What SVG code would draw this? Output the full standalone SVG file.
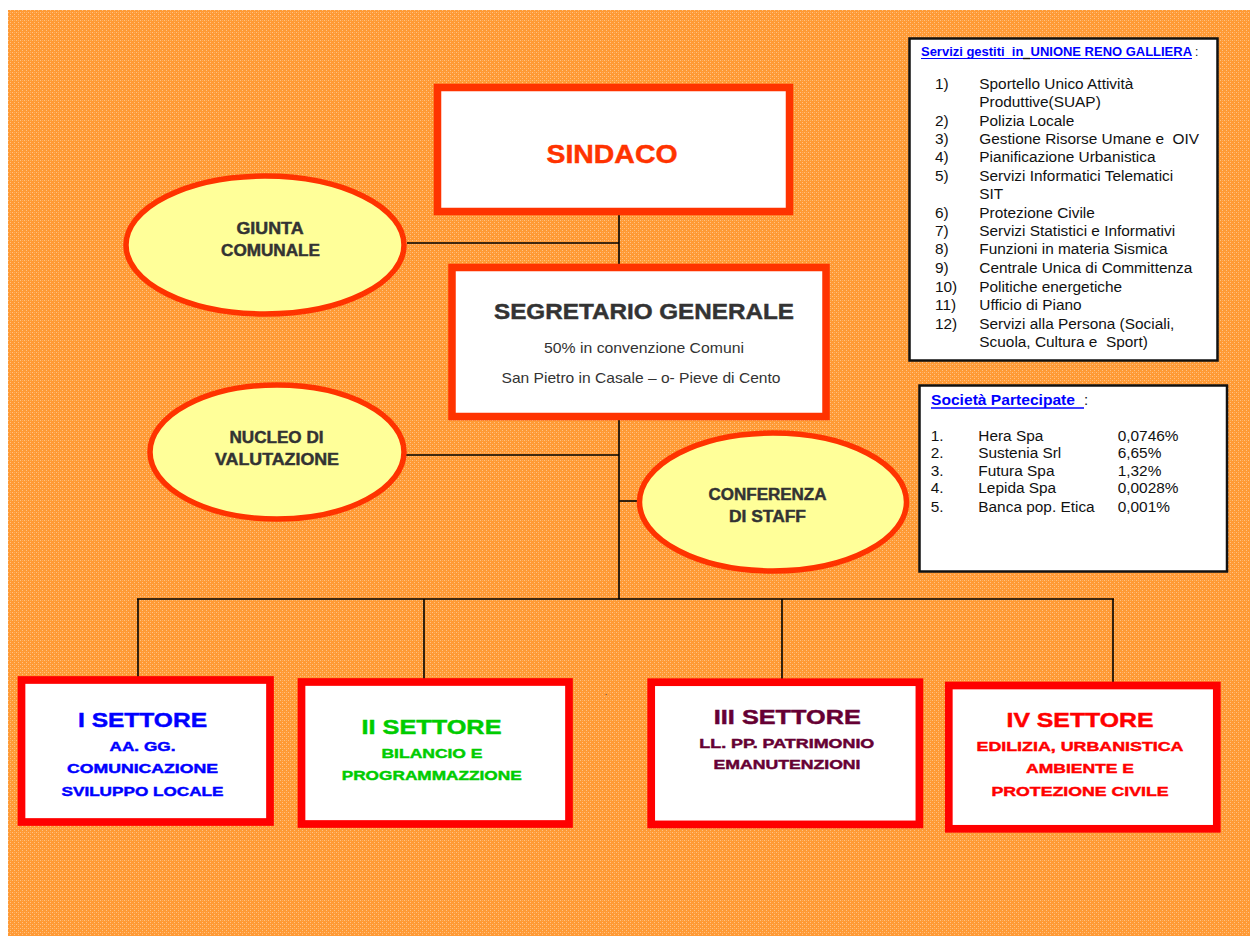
<svg xmlns="http://www.w3.org/2000/svg" width="1250" height="936" viewBox="0 0 1250 936">
<defs>
<pattern id="bgp" width="4" height="4" patternUnits="userSpaceOnUse">
<rect width="4" height="4" fill="#FF9A35"/>
<rect x="0" y="0" width="1" height="1" fill="#FFC285"/>
<rect x="2" y="2" width="1" height="1" fill="#FFC285"/>
<rect x="2" y="0" width="1" height="1" fill="#FFAE5C"/>
</pattern>
<style>
.top{fill:#fff;stroke:#FF3300;stroke-width:7.5}
.ell{fill:#FFFF99;stroke:#FF3300;stroke-width:5.5}
.sec{fill:#fff;stroke:#FF0000;stroke-width:7.7}
.con{stroke:#000;stroke-width:1.6;fill:none}
.b{font-family:"Liberation Sans",Arial,sans-serif;font-weight:bold;text-anchor:middle;stroke-width:0.45}
.r{font-family:"Liberation Sans",Arial,sans-serif}
.ov{fill:#333333;stroke:#333333;font-size:16px}
.lst{font-size:15.4px;fill:#111}
.info{fill:#fff;stroke:#111;stroke-width:2.5}
</style>
</defs>
<rect x="0" y="0" width="1250" height="936" fill="#fff"/>
<rect x="8" y="10" width="1242" height="926" fill="url(#bgp)"/>

<g id="connectors">
<line class="con" x1="619" y1="214" x2="619" y2="264"/>
<line class="con" x1="407" y1="243" x2="619" y2="243"/>
<line class="con" x1="619" y1="420" x2="619" y2="599"/>
<line class="con" x1="406" y1="455" x2="619" y2="455"/>
<line class="con" x1="619" y1="501" x2="638" y2="501"/>
<line class="con" x1="137" y1="599" x2="1114" y2="599"/>
<line class="con" x1="138" y1="599" x2="138" y2="677"/>
<line class="con" x1="424" y1="599" x2="424" y2="679"/>
<line class="con" x1="782" y1="599" x2="782" y2="679"/>
<line class="con" x1="1113" y1="599" x2="1113" y2="682"/>
</g>

<g id="sindaco">
<rect class="top" x="437.5" y="87.5" width="352" height="124"/>
<text class="b" x="612" y="163" font-size="25" fill="#FF3300" stroke="#FF3300" textLength="131" lengthAdjust="spacingAndGlyphs">SINDACO</text>
</g>

<g id="segretario">
<rect class="top" x="452" y="267.5" width="374" height="149"/>
<text class="b" x="644" y="319" font-size="22" fill="#333333" stroke="#333333" textLength="300" lengthAdjust="spacingAndGlyphs">SEGRETARIO GENERALE</text>
<text class="r" x="644" y="353" font-size="15" fill="#333333" text-anchor="middle" textLength="200" lengthAdjust="spacingAndGlyphs">50% in convenzione Comuni</text>
<text class="r" x="641" y="383" font-size="15" fill="#333333" text-anchor="middle" textLength="279" lengthAdjust="spacingAndGlyphs">San Pietro in Casale – o- Pieve di Cento</text>
</g>

<g id="giunta">
<ellipse class="ell" cx="265" cy="245" rx="139" ry="69"/>
<text class="b ov" x="270" y="234" textLength="67" lengthAdjust="spacingAndGlyphs">GIUNTA</text>
<text class="b ov" x="270.5" y="256" textLength="99" lengthAdjust="spacingAndGlyphs">COMUNALE</text>
</g>

<g id="nucleo">
<ellipse class="ell" cx="277" cy="452" rx="127" ry="67"/>
<text class="b ov" x="276.5" y="443" textLength="94" lengthAdjust="spacingAndGlyphs">NUCLEO DI</text>
<text class="b ov" x="277" y="465" textLength="124" lengthAdjust="spacingAndGlyphs">VALUTAZIONE</text>
</g>

<g id="conferenza">
<ellipse class="ell" cx="773" cy="502" rx="133.5" ry="69"/>
<text class="b ov" x="767.5" y="500" textLength="118" lengthAdjust="spacingAndGlyphs">CONFERENZA</text>
<text class="b ov" x="767.5" y="522" textLength="77" lengthAdjust="spacingAndGlyphs">DI STAFF</text>
</g>

<g id="servizi">
<rect class="info" x="909.5" y="38.5" width="308" height="322"/>
<text class="r" x="921" y="56" font-size="12" font-weight="bold" fill="#0000FF" textLength="271" lengthAdjust="spacingAndGlyphs" xml:space="preserve">Servizi gestiti  in  UNIONE RENO GALLIERA</text>
<text class="r" x="1195" y="56" font-size="12" fill="#111"> :</text>
<line x1="921" y1="58.5" x2="1192" y2="58.5" stroke="#0000FF" stroke-width="1.2"/>
<line x1="1023" y1="58.5" x2="1030" y2="58.5" stroke="#111" stroke-width="1.4"/>
<g class="r lst">
<text x="935" y="89.3">1)</text><text x="979.3" y="89.3">Sportello Unico Attività</text>
<text x="979.3" y="107.3">Produttive(SUAP)</text>
<text x="935" y="125.7">2)</text><text x="979.3" y="125.7">Polizia Locale</text>
<text x="935" y="144">3)</text><text x="979.3" y="144" xml:space="preserve">Gestione Risorse Umane e  OIV</text>
<text x="935" y="162.3">4)</text><text x="979.3" y="162.3">Pianificazione Urbanistica</text>
<text x="935" y="180.7">5)</text><text x="979.3" y="180.7">Servizi Informatici Telematici</text>
<text x="979.3" y="199.3">SIT</text>
<text x="935" y="217.7">6)</text><text x="979.3" y="217.7">Protezione Civile</text>
<text x="935" y="236">7)</text><text x="979.3" y="236">Servizi Statistici e Informativi</text>
<text x="935" y="254.3">8)</text><text x="979.3" y="254.3">Funzioni in materia Sismica</text>
<text x="935" y="272.7">9)</text><text x="979.3" y="272.7">Centrale Unica di Committenza</text>
<text x="935" y="291.7">10)</text><text x="979.3" y="291.7">Politiche energetiche</text>
<text x="935" y="310">11)</text><text x="979.3" y="310">Ufficio di Piano</text>
<text x="935" y="329">12)</text><text x="979.3" y="329">Servizi alla Persona (Sociali,</text>
<text x="979.3" y="346.7" xml:space="preserve">Scuola, Cultura e  Sport)</text>
</g>
</g>

<g id="societa">
<rect class="info" x="919.5" y="385.5" width="307.5" height="186"/>
<text class="r" x="931" y="405" font-size="15" font-weight="bold" fill="#0000FF" textLength="144" lengthAdjust="spacingAndGlyphs">Società Partecipate</text>
<text class="r" x="1084" y="405" font-size="15" fill="#111"> :</text>
<line x1="931" y1="408" x2="1084" y2="408" stroke="#0000FF" stroke-width="1.4"/>
<g class="r lst">
<text x="930.7" y="440.7">1.</text><text x="978.3" y="440.7">Hera Spa</text><text x="1117.7" y="440.7">0,0746%</text>
<text x="930.7" y="458.3">2.</text><text x="978.3" y="458.3">Sustenia Srl</text><text x="1117.7" y="458.3">6,65%</text>
<text x="930.7" y="476">3.</text><text x="978.3" y="476">Futura Spa</text><text x="1117.7" y="476">1,32%</text>
<text x="930.7" y="493.3">4.</text><text x="978.3" y="493.3">Lepida Spa</text><text x="1117.7" y="493.3">0,0028%</text>
<text x="930.7" y="512.3">5.</text><text x="978.3" y="512.3">Banca pop. Etica</text><text x="1117.7" y="512.3">0,001%</text>
</g>
</g>

<g id="settore1">
<rect class="sec" x="21.5" y="680" width="248.5" height="142"/>
<g fill="#0000FF" stroke="#0000FF">
<text class="b" x="142.5" y="727" font-size="21" textLength="129" lengthAdjust="spacingAndGlyphs">I SETTORE</text>
<text class="b" x="142.5" y="751" font-size="13.5" textLength="66" lengthAdjust="spacingAndGlyphs">AA. GG.</text>
<text class="b" x="142.5" y="773.3" font-size="13.5" textLength="151" lengthAdjust="spacingAndGlyphs">COMUNICAZIONE</text>
<text class="b" x="142.5" y="796" font-size="13.5" textLength="162" lengthAdjust="spacingAndGlyphs">SVILUPPO LOCALE</text>
</g>
</g>

<g id="settore2">
<rect class="sec" x="301.5" y="682" width="267.5" height="142"/>
<g fill="#00CC00" stroke="#00CC00">
<text class="b" x="431.5" y="734" font-size="21" textLength="140" lengthAdjust="spacingAndGlyphs">II SETTORE</text>
<text class="b" x="432" y="758.3" font-size="13.5" textLength="101" lengthAdjust="spacingAndGlyphs">BILANCIO E</text>
<text class="b" x="431.7" y="780" font-size="13.5" textLength="180" lengthAdjust="spacingAndGlyphs">PROGRAMMAZZIONE</text>
</g>
</g>

<text class="r" x="605" y="695" font-size="8" fill="#000">.</text>

<g id="settore3">
<rect class="sec" x="651.2" y="682.2" width="268.2" height="142.2"/>
<g fill="#660033" stroke="#660033">
<text class="b" x="787.3" y="724" font-size="21" textLength="147" lengthAdjust="spacingAndGlyphs">III SETTORE</text>
<text class="b" x="786.8" y="747.7" font-size="13.5" textLength="175" lengthAdjust="spacingAndGlyphs">LL. PP. PATRIMONIO</text>
<text class="b" x="787" y="769.3" font-size="13.5" textLength="147" lengthAdjust="spacingAndGlyphs">EMANUTENZIONI</text>
</g>
</g>

<g id="settore4">
<rect class="sec" x="948.8" y="685.5" width="268" height="143.3"/>
<g fill="#FF0000" stroke="#FF0000">
<text class="b" x="1080" y="726.7" font-size="21" textLength="147" lengthAdjust="spacingAndGlyphs">IV SETTORE</text>
<text class="b" x="1080" y="750.7" font-size="13.5" textLength="207" lengthAdjust="spacingAndGlyphs">EDILIZIA, URBANISTICA</text>
<text class="b" x="1080" y="773.3" font-size="13.5" textLength="108" lengthAdjust="spacingAndGlyphs">AMBIENTE E</text>
<text class="b" x="1080" y="795.7" font-size="13.5" textLength="177" lengthAdjust="spacingAndGlyphs">PROTEZIONE CIVILE</text>
</g>
</g>
</svg>
